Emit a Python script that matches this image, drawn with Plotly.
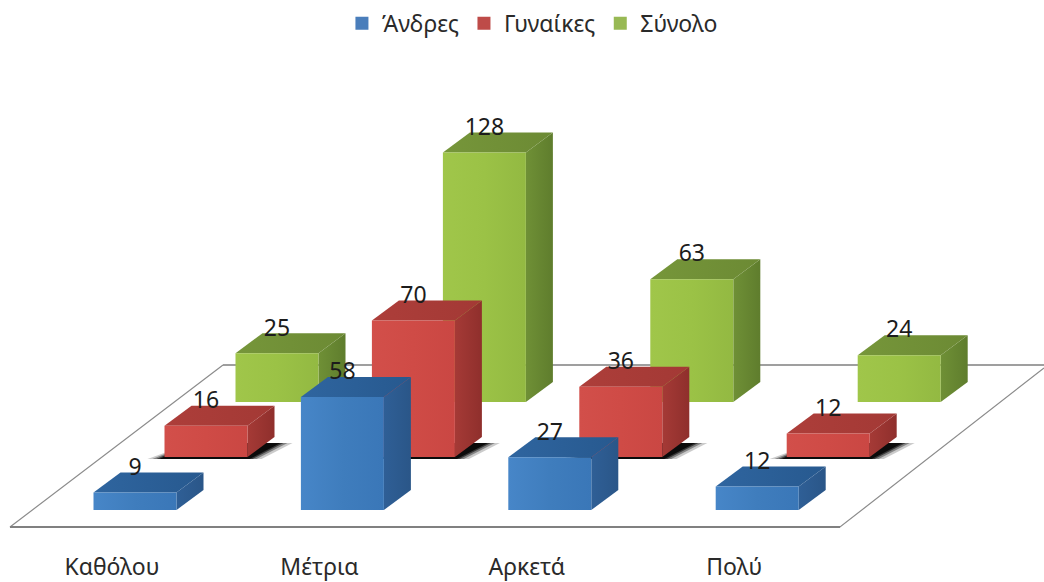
import plotly.graph_objects as go

categories = ["Καθόλου", "Μέτρια", "Αρκετά", "Πολύ"]
men = [9, 58, 27, 12]
women = [16, 70, 36, 12]
total = [25, 128, 63, 24]
series_names = ["Άνδρες", "Γυναίκες", "Σύνολο"]

W, H = 1044, 582
PLOT_B = 551          # pixel row of plot bottom
PX_CAT = 207.4        # px per category
PX_VAL = 1.95         # px per value unit
CAT0_PX = 112         # pixel column of the first category centre
BASE_PX = 510         # pixel row of value 0 in the front series


def ux(dx):
    return dx / PX_CAT


def uy(dy):
    return dy / PX_VAL


def fx(px):
    return (px - CAT0_PX) / PX_CAT


def fy(py):
    return (BASE_PX - py) / PX_VAL


STYLES = [
    dict(off=(0, 0), front=["#4786c8", "#3f7dbd", "#3a77b8"], top=["#2f659f", "#27598f"], side=["#2f5f96", "#2a5688"], leg="#4a7ebb"),
    dict(off=(71, 53), front=["#d24f4a", "#cf4b46", "#ca4743"], top=["#ad3e3a", "#a33935"], side=["#a53a36", "#8f2f2c"], leg="#be4b48"),
    dict(off=(142, 108), front=["#a0c64a", "#9bc246", "#93b942"], top=["#76963a", "#6c8a34"], side=["#6f9036", "#5f7d2d"], leg="#98b954"),
]
BAR_W, DEP_X, DEP_Y = 83, 27, 20

fig = go.Figure()


def poly(xs, ys, colors=None, gtype="vertical", fillcolor=None, opacity=None):
    kw = dict(x=xs + xs[:1], y=ys + ys[:1], mode="lines", fill="toself", line=dict(width=0),
              showlegend=False, hoverinfo="skip")
    if colors:
        scale = [[i / (len(colors) - 1), c] for i, c in enumerate(colors)]
        kw["fillgradient"] = dict(type=gtype, colorscale=scale)
    else:
        kw["fillcolor"] = fillcolor
    if opacity is not None:
        kw["opacity"] = opacity
    fig.add_trace(go.Scatter(**kw))


def line(xs, ys, color, width):
    fig.add_trace(go.Scatter(x=xs, y=ys, mode="lines", line=dict(color=color, width=width),
                             showlegend=False, hoverinfo="skip"))


# floor
line([fx(223), fx(10), fx(840), fx(1044)], [fy(365), fy(527), fy(527), fy(368)], "#8c8c8c", 1.2)
line([fx(10), fx(840)], [fy(527), fy(527)], "#808080", 2)
line([fx(223), fx(1044)], [fy(365), fy(365)], "#7f7f7f", 1.6)


def box(i, j, v):
    st = STYLES[j]
    cx = i + ux(st["off"][0])
    base = uy(st["off"][1])
    x0, x1 = cx - ux(BAR_W) / 2 + ux(23), cx + ux(BAR_W) / 2 + ux(23)
    y0, y1 = base, base + v
    dx, dy = ux(DEP_X), uy(DEP_Y)
    if j == 1:
        # blurred contact shadow under the middle series
        for grow, op in ((14, 0.2), (9, 0.35), (5, 0.55), (2, 0.8)):
            g = ux(grow)
            poly([x0 - g - ux(3), x1 + g, x1 + dx + g + ux(4), x0 + dx],
                 [y0 - uy(2), y0 - uy(2), y0 + dy - uy(6), y0 + dy - uy(6)],
                 fillcolor="#000000", opacity=op)
    poly([x1, x1 + dx, x1 + dx, x1], [y0, y0 + dy, y1 + dy, y1], st["side"], "horizontal")
    poly([x0, x1, x1 + dx, x0 + dx], [y1, y1, y1 + dy, y1 + dy], st["top"], "horizontal")
    poly([x0, x1, x1, x0], [y0, y0, y1, y1], st["front"], "horizontal")
    return (x0 + x1) / 2, y1 + dy


labels = []
for j, vals in reversed(list(enumerate([men, women, total]))):
    for i in range(len(categories)):
        xc, yt = box(i, j, vals[i])
        labels.append((xc, yt - uy(8), vals[i]))

fig.add_trace(go.Scatter(
    x=[l[0] for l in labels], y=[l[1] for l in labels], text=[str(l[2]) for l in labels],
    mode="text", textposition="top center", textfont=dict(size=23, color="#1c1c1c", family="Noto Sans"),
    showlegend=False, hoverinfo="skip", cliponaxis=False))

for name, st in zip(series_names, STYLES):
    fig.add_trace(go.Scatter(x=[None], y=[None], mode="markers", name=name,
                             marker=dict(symbol="square", size=13, color=st["leg"])))

fig.update_layout(
    width=W, height=H, margin=dict(l=0, r=0, t=0, b=H - PLOT_B, autoexpand=False),
    paper_bgcolor="white", plot_bgcolor="white",
    font=dict(family="Noto Sans", size=23, color="#2a2a2a"),
    xaxis=dict(range=[fx(0), fx(W)], tickmode="array", tickvals=list(range(len(categories))),
               ticktext=categories, showgrid=False, zeroline=False, showline=False, ticks="",
               tickfont=dict(size=23, color="#2a2a2a")),
    yaxis=dict(range=[fy(PLOT_B), fy(0)], visible=False),
    legend=dict(orientation="h", x=0.51, xanchor="center", y=0.997, yanchor="top",
                yref="container", font=dict(size=23), itemclick=False, itemdoubleclick=False),
)

fig.write_html("out.html", config=dict(displayModeBar=False), post_script="document.body.style.margin='0';")
